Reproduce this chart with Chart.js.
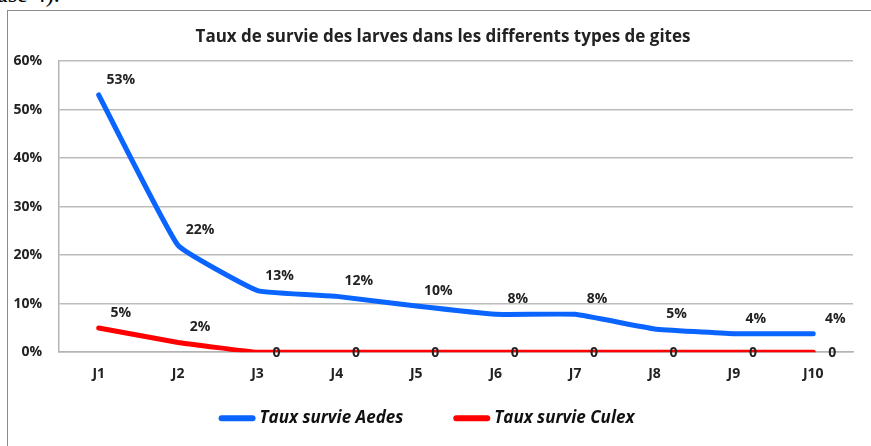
<!DOCTYPE html>
<html>
<head>
<meta charset="utf-8">
<script src="https://cdn.jsdelivr.net/npm/chart.js@4.4.1/dist/chart.umd.min.js"></script>
<style>
  html, body { margin: 0; padding: 0; background: #fff; overflow: hidden; }
  body { width: 871px; height: 446px; position: relative; }
  #doc { position: absolute; left: -3px; top: -19px; font: 24px "Liberation Serif", serif; color: #000; }
  #frame { position: absolute; left: 7px; top: 10px; width: 900px; height: 460px;
           border-left: 1px solid #8c8c8c; border-top: 1px solid #8c8c8c; }
  #wrap { position: absolute; left: 0; top: 0; width: 871px; height: 446px; }
</style>
</head>
<body>
<div id="doc">ase 4).</div>
<div id="frame"></div>
<div id="wrap"><canvas id="survieChart"></canvas></div>
<script>
// Data
const days = ['J1', 'J2', 'J3', 'J4', 'J5', 'J6', 'J7', 'J8', 'J9', 'J10'];
const aedes = [53, 22, 12.7, 11.5, 9.5, 7.8, 7.8, 4.8, 3.8, 3.8];
const culex = [5, 2, 0, 0, 0, 0, 0, 0, 0, 0];
const yTicks = [0, 10, 20, 30, 40, 50, 60];
const chartTitle = 'Taux de survie des larves dans les differents types de gites';

const FONT = "'Open Sans', 'DejaVu Sans', sans-serif";

// Value labels next to each point
const pointLabels = {
    id: 'pointLabels',
    afterDatasetsDraw(chart) {
        const ctx = chart.ctx;
        ctx.save();
        ctx.font = `bold 14px ${FONT}`;
        ctx.fillStyle = '#222';
        ctx.textAlign = 'center';
        ctx.textBaseline = 'middle';
        chart.data.datasets.forEach((ds, i) => {
            const meta = chart.getDatasetMeta(i);
            meta.data.forEach((pt, j) => {
                const v = ds.data[j];
                if (v === 0) {
                    ctx.fillText('0', pt.x + 19, pt.y + 1);
                } else {
                    ctx.fillText(Math.round(v) + '%', pt.x + 22, pt.y - 15);
                }
            });
        });
        ctx.restore();
    }
};

// Title above the plot, and legend under the axis (line sample then italic label)
const titleAndLegend = {
    id: 'titleAndLegend',
    afterDraw(chart) {
        const ctx = chart.ctx;
        ctx.save();
        ctx.font = `bold 17px ${FONT}`;
        ctx.fillStyle = '#222';
        ctx.textAlign = 'center';
        ctx.textBaseline = 'middle';
        ctx.fillText(chartTitle, 443, chart.chartArea.top - 24);

        const sample = 37, gap = 4, between = 50;
        ctx.font = `italic bold 17px ${FONT}`;
        const items = chart.data.datasets.map(ds => ({
            text: ds.label, color: ds.borderColor, w: ctx.measureText(ds.label).width
        }));
        const total = items.reduce((s, it) => s + sample + gap + it.w, 0) + between * (items.length - 1);
        let x = (chart.width - 18) / 2 - total / 2;
        const y = chart.chartArea.bottom + 66;
        items.forEach(it => {
            ctx.strokeStyle = it.color;
            ctx.lineWidth = 6;
            ctx.lineCap = 'round';
            ctx.beginPath();
            ctx.moveTo(x + 3, y);
            ctx.lineTo(x + sample - 3, y);
            ctx.stroke();
            x += sample + gap;
            ctx.fillStyle = '#111';
            ctx.textAlign = 'left';
            ctx.fillText(it.text, x, y);
            x += it.w + between;
        });
        ctx.restore();
    }
};

new Chart(document.getElementById('survieChart'), {
    type: 'line',
    data: {
        labels: days,
        datasets: [{
            label: 'Taux survie Aedes',
            data: aedes,
            borderColor: '#0a64ff',
            backgroundColor: '#0a64ff',
            borderWidth: 5,
            borderCapStyle: 'round',
            borderJoinStyle: 'round',
            pointRadius: 0,
            tension: 0.1
        }, {
            label: 'Taux survie Culex',
            data: culex,
            borderColor: '#ff0000',
            backgroundColor: '#ff0000',
            borderWidth: 5,
            borderCapStyle: 'round',
            borderJoinStyle: 'round',
            pointRadius: 0,
            tension: 0.1
        }]
    },
    options: {
        responsive: true,
        maintainAspectRatio: false,
        animation: false,
        layout: { padding: { left: 0, right: 18, top: 61, bottom: 51 } },
        plugins: {
            title: { display: false },
            legend: { display: false },
            tooltip: { enabled: false }
        },
        scales: {
            x: {
                offset: true,
                grid: { display: false, drawTicks: false },
                border: { display: true, color: '#b4b4b4', width: 1.5 },
                ticks: { color: '#222', padding: 13, font: { family: FONT, size: 14, weight: 'bold' } }
            },
            y: {
                min: 0,
                max: 60,
                afterFit: scale => { scale.width = 59; },
                afterBuildTicks: scale => { scale.ticks = yTicks.map(v => ({ value: v })); },
                grid: { color: '#bcbcbc', lineWidth: 1.5, drawTicks: false },
                border: { display: true, color: '#b4b4b4', width: 1.5 },
                ticks: {
                    color: '#222',
                    padding: 17,
                    font: { family: FONT, size: 14, weight: 'bold' },
                    callback: v => v + '%'
                }
            }
        }
    },
    plugins: [pointLabels, titleAndLegend]
});
</script>
</body>
</html>
